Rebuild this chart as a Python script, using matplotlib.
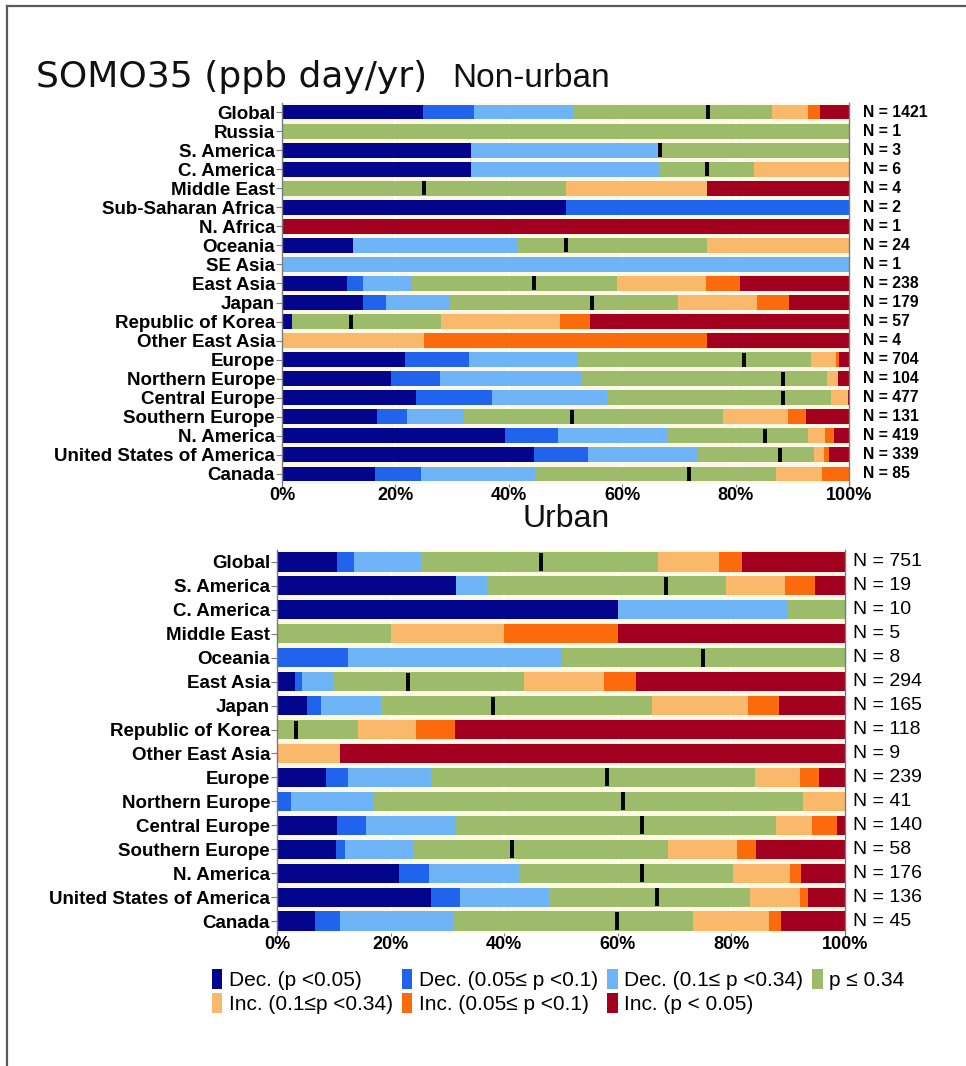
import numpy as np
import matplotlib
matplotlib.use("Agg")
import matplotlib.pyplot as plt
from matplotlib.patches import Patch
from matplotlib.lines import Line2D

plt.rcParams['font.family'] = ['Liberation Sans', 'DejaVu Sans']

# colours of the seven trend classes
cols = ['#03058c', '#2064ee', '#6fb4f6', '#9cbc6b', '#fab96a', '#fb6a0c', '#a3001f']
leg_labels = ['Dec. (p <0.05)', 'Dec. (0.05\u2264 p <0.1)', 'Dec. (0.1\u2264 p <0.34)', 'p \u2264 0.34',
              'Inc. (0.1\u2264p <0.34)', 'Inc. (0.05\u2264 p <0.1)', 'Inc. (p < 0.05)']

# ---- Non-urban ----
regions_nu = ["Global", "Russia", "S. America", "C. America", "Middle East", "Sub-Saharan Africa",
              "N. Africa", "Oceania", "SE Asia", "East Asia", "Japan", "Republic of Korea",
              "Other East Asia", "Europe", "Northern Europe", "Central Europe", "Southern Europe",
              "N. America", "United States of America", "Canada"]
n_nu = [1421, 1, 3, 6, 4, 2, 1, 24, 1, 238, 179, 57, 4, 704, 104, 477, 131, 419, 339, 85]
nu_dec_sig  = [24.9, 0, 33.3, 33.3, 0, 50, 0, 12.5, 0, 11.4, 14.3, 1.8, 0, 21.7, 19.2, 23.6, 16.7, 39.4, 44.4, 16.4]
nu_dec_mod  = [9.0, 0, 0, 0, 0, 50, 0, 0, 0, 2.8, 4.0, 0, 0, 11.2, 8.7, 13.5, 5.3, 9.2, 9.5, 8.2]
nu_dec_weak = [17.4, 0, 33.3, 33.3, 0, 0, 0, 29.2, 100, 8.8, 11.3, 0, 0, 19.2, 25.0, 20.3, 10.1, 19.5, 19.5, 20.1]
nu_insig    = [35.2, 100, 33.4, 16.7, 50, 0, 0, 33.3, 0, 36.1, 40.2, 26.2, 0, 41.2, 43.3, 39.4, 45.7, 24.7, 20.4, 42.4]
nu_inc_weak = [6.3, 0, 0, 16.7, 25, 0, 0, 25, 0, 15.7, 14.0, 21.1, 25, 4.4, 1.9, 3.0, 11.5, 3.0, 1.8, 8.2]
nu_inc_mod  = [2.0, 0, 0, 0, 0, 0, 0, 0, 0, 5.9, 5.7, 5.3, 50, 0.6, 0, 0, 3.1, 1.6, 0.9, 4.7]
nu_inc_sig  = [5.2, 0, 0, 0, 25, 0, 100, 0, 0, 19.3, 10.5, 45.6, 25, 1.7, 1.9, 0.2, 7.6, 2.6, 3.5, 0]
nu_tick = [75.1, np.nan, 66.7, 75.0, 25.0, np.nan, np.nan, 50.0, np.nan, 44.5, 54.7, 12.2, np.nan,
           81.5, 88.4, 88.4, 51.1, 85.2, 87.8, 71.8]

# ---- Urban ----
regions_u = ["Global", "S. America", "C. America", "Middle East", "Oceania", "East Asia", "Japan",
             "Republic of Korea", "Other East Asia", "Europe", "Northern Europe", "Central Europe",
             "Southern Europe", "N. America", "United States of America", "Canada"]
n_u = [751, 19, 10, 5, 8, 294, 165, 118, 9, 239, 41, 140, 58, 176, 136, 45]
u_dec_sig  = [10.5, 31.6, 60, 0, 0, 3.1, 5.3, 0, 0, 8.7, 0, 10.6, 10.3, 21.5, 27.1, 6.7]
u_dec_mod  = [3.0, 0, 0, 0, 12.5, 1.3, 2.5, 0, 0, 3.8, 2.4, 5.0, 1.7, 5.2, 5.2, 4.4]
u_dec_weak = [11.8, 5.3, 30, 0, 37.5, 5.6, 10.5, 0, 0, 14.7, 14.6, 15.9, 12.1, 15.9, 15.6, 20.0]
u_insig    = [41.7, 42.1, 10, 20, 50, 33.5, 47.7, 14.3, 0, 57.0, 75.6, 56.4, 44.8, 37.6, 35.3, 42.2]
u_inc_weak = [10.9, 10.5, 0, 20, 0, 14.0, 17.0, 10.2, 11.1, 7.9, 7.4, 6.3, 12.1, 10.2, 8.8, 13.3]
u_inc_mod  = [4.0, 5.3, 0, 20, 0, 5.7, 5.4, 6.8, 0, 3.3, 0, 4.4, 3.4, 1.8, 1.4, 2.2]
u_inc_sig  = [18.1, 5.2, 0, 40, 0, 36.8, 11.6, 68.7, 88.9, 4.6, 0, 1.4, 15.6, 7.8, 6.6, 11.2]
u_tick = [46.5, 68.4, np.nan, np.nan, 75.0, 23.1, 38.1, 3.3, np.nan, 58.1, 61.0, 64.3, 41.3, 64.2, 66.9, 59.9]


def draw_panel(ax, regions, counts, segs, ticks, bar_h, mark_ms, n_size, n_weight, n_off):
    y = np.arange(len(regions))
    left = np.zeros(len(regions))
    for vals, c in zip(segs, cols):
        vals = np.array(vals, dtype=float)
        ax.barh(y, vals, left=left, height=bar_h, color=c, edgecolor='none', zorder=2)
        left += vals
    ax.plot(ticks, y, linestyle='none', marker='|', color='black', ms=mark_ms, mew=2.8, zorder=3)
    for yi, n in zip(y, counts):
        ax.annotate('N = %d' % n, xy=(1, yi), xycoords=('axes fraction', 'data'),
                    xytext=(n_off, 0), textcoords='offset points', va='center', ha='left',
                    fontsize=n_size, fontweight=n_weight)
    ax.set_xlim(0, 100)
    ax.set_ylim(len(regions) - 0.5, -0.5)
    ax.set_yticks(y)
    ax.set_yticklabels(regions, fontsize=13.5, fontweight='bold')
    ax.set_xticks(np.arange(0, 101, 20))
    ax.set_xticklabels(['%d%%' % v for v in range(0, 101, 20)], fontsize=13, fontweight='bold')
    ax.set_facecolor('#fcf8e4')
    ax.set_axisbelow(True)
    ax.grid(axis='x', color='white', lw=1.6, zorder=0)
    for s in ['top', 'bottom']:
        ax.spines[s].set_visible(False)
    for s in ['left', 'right']:
        ax.spines[s].set_color('#7a7a7a')
        ax.spines[s].set_linewidth(1.0)
    ax.tick_params(axis='y', length=4, color='#7a7a7a', pad=1)
    ax.tick_params(axis='x', length=2, color='#7a7a7a', pad=0.5)


W, H = 966, 1066
fig = plt.figure(figsize=(W / 100, H / 100), dpi=100)

ax1 = fig.add_axes([282 / W, 1 - 483.5 / H, 567 / W, 381 / H])
draw_panel(ax1, regions_nu, n_nu,
           [nu_dec_sig, nu_dec_mod, nu_dec_weak, nu_insig, nu_inc_weak, nu_inc_mod, nu_inc_sig],
           nu_tick, 0.78, 10.5, 11.3, 'bold', 10)

ax2 = fig.add_axes([277 / W, 1 - 933 / H, 568 / W, 383 / H])
draw_panel(ax2, regions_u, n_u,
           [u_dec_sig, u_dec_mod, u_dec_weak, u_insig, u_inc_weak, u_inc_mod, u_inc_sig],
           u_tick, 0.8, 12.5, 14, 'normal', 6)

# titles
fig.text(36 / W, 1 - 87 / H, 'SOMO35 (ppb day/yr)', fontsize=26, family='DejaVu Sans',
         va='baseline', ha='left', color='#111111')
fig.text(452 / W, 1 - 87 / H, 'Non-urban', fontsize=24, va='baseline', ha='left', color='#111111')
fig.text(566 / W, 1 - 519 / H, 'Urban', fontsize=23, va='center', ha='center', color='#111111')

# legend, column-major order so rows read like the original
handles = [Patch(facecolor=c, edgecolor='none') for c in cols]
order = [0, 4, 1, 5, 2, 6, 3]
fig.legend([handles[i] for i in order], [leg_labels[i] for i in order], ncol=4,
           loc='upper left', bbox_to_anchor=(212 / W, 1 - 969 / H), frameon=False,
           fontsize=15, handlelength=0.5, handleheight=1.1, handletextpad=0.3,
           columnspacing=0.45, labelspacing=0.12, borderpad=0, borderaxespad=0)

# picture frame lines
fig.add_artist(Line2D([7 / W, 7 / W], [0, 1 - 6 / H], color='#5a5a5a', lw=1.6))
fig.add_artist(Line2D([7 / W, 1], [1 - 6 / H, 1 - 6 / H], color='#5a5a5a', lw=1.6))

fig.savefig('out.png', dpi=100)
